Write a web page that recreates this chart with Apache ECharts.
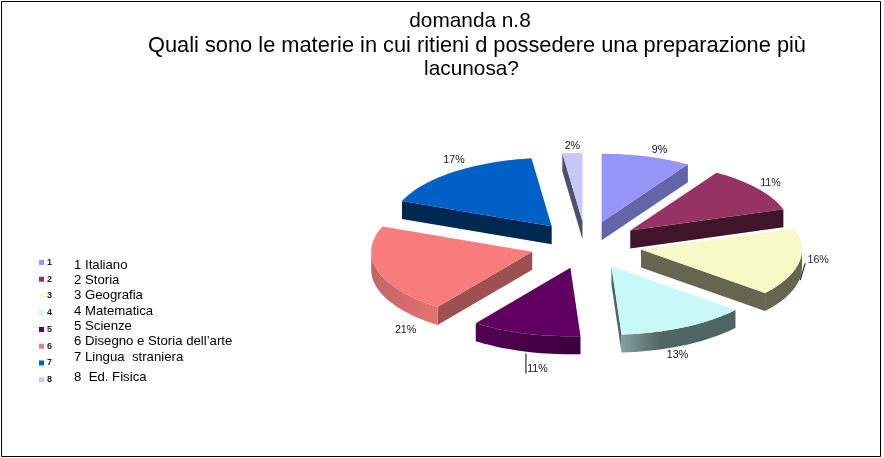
<!DOCTYPE html>
<html>
<head>
<meta charset="utf-8">
<style>html,body{margin:0;padding:0;background:#fff}#c{width:884px;height:458px}</style>
<script src="https://cdn.jsdelivr.net/npm/echarts@6/dist/echarts.min.js"></script>
</head>
<body>
<div id="c"></div>
<script>
// ---- data ----
var titleLines = ['domanda n.8', 'Quali sono le materie in cui ritieni d possedere una preparazione più', 'lacunosa?'];
var legendKeys = ['1', '2', '3', '4', '5', '6', '7', '8'];
var subjects = ['1 Italiano', '2 Storia', '3 Geografia', '4 Matematica', '5 Scienze', '6 Disegno e Storia dell’arte', '7 Lingua  straniera', '8  Ed. Fisica'];
var values = [9, 11, 16, 13, 11, 21, 17, 2];
var labels = ['9%', '11%', '16%', '13%', '11%', '21%', '17%', '2%'];

// ---- styling ----
var topColors = ['#9696F8', '#963264', '#F8F8C8', '#C8F8F8', '#600060', '#F87C7C', '#0060C8', '#C8C8F8'];
var sideColors = ['#6464A8', '#40142A', '#666650', '#506464', '#3F003F', '#9C5050', '#002850', '#50506A'];
var outerWall = [null, null, ['#666650', '#666650'], ['#82A0A0', '#506464'], ['#520052', '#3C003C'], ['#C46464', '#E47272'], null, null];
var labelColors = ['#111', '#3c0a30', '#3c0a30', '#111', '#111', '#111', '#111', '#111'];
var labelOffsets = [[13, -6], [13, -5], [19, -2], [-7, 28], [12, 35], [28, 59], [1, -12], [0, -7]];
var leaders = {2: [6, 1, 1, 18], 4: [0.5, 20, 0.5, 40]};
var cx = 586, cy = 245, R = 161, K = 0.425, EXPLODE = 56, DEPTH = 18;
var subjectY = [265.7, 280.3, 295.7, 311, 326.3, 341.7, 357.7, 377.7];
var titleTop = [5.5, 30, 53.5];
var titleLeft = [465, 472, 466.5];
var titleSize = [20.8, 21.8, 20.8];

var total = values.reduce(function (a, b) { return a + b; }, 0);
function pt(o, deg, r) {
  var t = deg * Math.PI / 180;
  return [o[0] + r * Math.sin(t), o[1] - r * K * Math.cos(t)];
}
function down(p) { return [p[0], p[1] + DEPTH]; }

function sliceItem(idx) {
  return function () {
    var before = values.slice(0, idx).reduce(function (a, b) { return a + b; }, 0);
    var a0 = before / total * 360, a1 = (before + values[idx]) / total * 360, mid = (a0 + a1) / 2;
    var apex = pt([cx, cy], mid, EXPLODE);
    var children = [];
    function poly(points, fill) {
      children.push({type: 'polygon', shape: {points: points}, style: {fill: fill, stroke: null}});
    }
    var M = pt(apex, mid, R * 0.5);
    [a0, a1].forEach(function (a) {
      var P = pt(apex, a, R);
      var ex = P[0] - apex[0], ey = P[1] - apex[1];
      var crossM = ex * (M[1] - apex[1]) - ey * (M[0] - apex[0]);
      var crossD = ex;                     // cross with (0,1)
      if (crossM * crossD < 0) {
        poly([apex, P, down(P), down(apex)], sideColors[idx]);
      }
    });
    var s = Math.max(a0, 90), e = Math.min(a1, 270);
    if (s < e) {
      var upper = [], lower = [];
      for (var a = s; a < e; a += 2) { upper.push(pt(apex, a, R)); }
      upper.push(pt(apex, e, R));
      upper.forEach(function (p) { lower.unshift(down(p)); });
      var w = outerWall[idx] || [sideColors[idx], sideColors[idx]];
      poly(upper.concat(lower), new echarts.graphic.LinearGradient(0, 0, 1, 0, [
        {offset: 0, color: w[0]}, {offset: idx === 3 ? 0.35 : 1, color: w[1]}, {offset: 1, color: w[1]}
      ]));
    }
    var face = [apex];
    for (var b = a0; b < a1; b += 2) { face.push(pt(apex, b, R)); }
    face.push(pt(apex, a1, R));
    poly(face, topColors[idx]);

    var rim = pt(apex, mid, R);
    var off = labelOffsets[idx];
    children.push({
      type: 'text', z2: 50,
      style: {x: rim[0] + off[0], y: rim[1] + off[1], text: labels[idx], fill: labelColors[idx],
        font: '10.7px "Liberation Sans"', align: 'center', verticalAlign: 'middle'}
    });
    if (leaders[idx]) {
      var l = leaders[idx];
      children.push({type: 'line', z2: 50,
        shape: {x1: rim[0] + l[0], y1: rim[1] + l[1], x2: rim[0] + l[2], y2: rim[1] + l[3]},
        style: {stroke: '#000', lineWidth: 1}});
    }
    return {type: 'group', children: children};
  };
}

var chart = echarts.init(document.getElementById('c'), null, {renderer: 'canvas'});
chart.setOption({
  animation: false,
  backgroundColor: '#fff',
  title: titleLines.map(function (t, i) {
    return {text: t, left: titleLeft[i], top: titleTop[i], textAlign: 'center',
      textStyle: {fontFamily: 'Liberation Sans', fontSize: titleSize[i], fontWeight: 'normal', color: '#000'}};
  }),
  legend: {
    orient: 'vertical', left: 34, top: 252.5, itemWidth: 5, itemHeight: 5, itemGap: 6.75,
    selectedMode: false, icon: 'rect',
    data: legendKeys.map(function (k, i) { return {name: k, itemStyle: {color: topColors[i]}}; }),
    textStyle: {fontFamily: 'Liberation Sans', fontSize: 9, fontWeight: 'bold', color: '#222', padding: [0, 0, 0, -2], lineHeight: 10}
  },
  series: values.map(function (v, i) {
    var before = values.slice(0, i).reduce(function (a, b) { return a + b; }, 0);
    var mid = (before + v / 2) / total * 360;
    return {
      type: 'custom', name: legendKeys[i], coordinateSystem: 'none',
      z: 10 + Math.round(10 - 10 * Math.cos(mid * Math.PI / 180)),
      data: [[v]], itemStyle: {color: topColors[i]}, silent: true,
      renderItem: sliceItem(i)
    };
  }),
  graphic: [
    {type: 'rect', z: 100, shape: {x: 1.5, y: 1.5, width: 879, height: 455}, style: {fill: 'none', stroke: '#000', lineWidth: 1}}
  ].concat(subjects.map(function (t, i) {
    return {type: 'text', z: 100, x: 74, y: subjectY[i],
      style: {text: t, fill: '#000', font: '13.2px "Liberation Sans"', verticalAlign: 'middle'}};
  }))
});
</script>
</body>
</html>
